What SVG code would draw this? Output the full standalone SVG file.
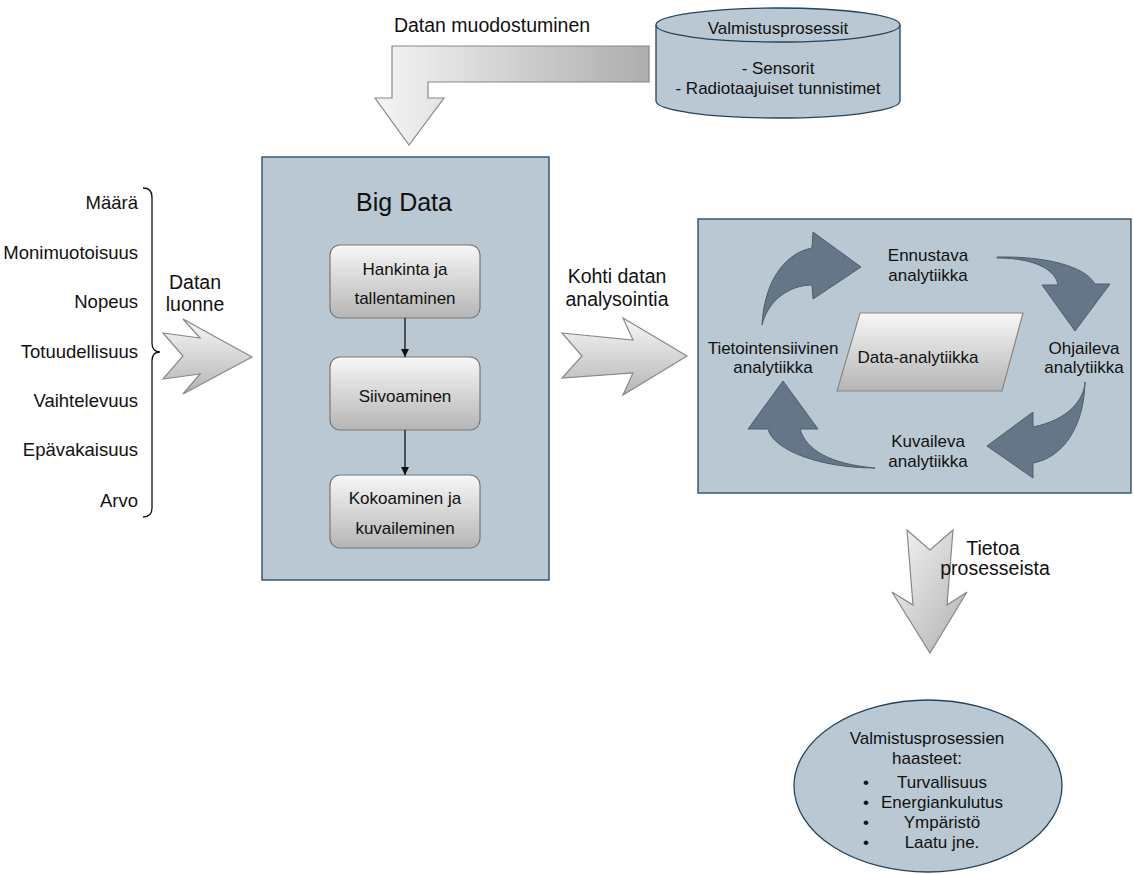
<svg xmlns="http://www.w3.org/2000/svg" width="1134" height="874" viewBox="0 0 1134 874">
  <defs>
    <style>
      text { font-family: "Liberation Sans", Arial, sans-serif; fill: #111; }
      .lbl { font-size: 17px; text-anchor: middle; }
      .big { font-size: 19.5px; text-anchor: middle; }
      .list { font-size: 18.5px; text-anchor: end; }
      .panel { fill: #bac8d3; stroke: #23445d; stroke-width: 1.3; }
      .step { fill: url(#gv); stroke: #777; stroke-width: 1.2; }
      .flow { fill: url(#gv); stroke: #888; stroke-width: 1.2; }
      .cyc { fill: #647687; stroke: #4d5e6e; stroke-width: 1; }
      .link { stroke: #111; stroke-width: 1.3; fill: none; }
    </style>
    <linearGradient id="gv" x1="0" y1="0" x2="0" y2="1">
      <stop offset="0" stop-color="#f7f7f7"/>
      <stop offset="1" stop-color="#b5b5b5"/>
    </linearGradient>
    <linearGradient id="gh" x1="0" y1="0" x2="1" y2="0">
      <stop offset="0" stop-color="#f5f5f5"/>
      <stop offset="1" stop-color="#adadad"/>
    </linearGradient>
    <linearGradient id="gd" x1="0" y1="0" x2="1" y2="1">
      <stop offset="0" stop-color="#f5f5f5"/>
      <stop offset="1" stop-color="#b0b0b0"/>
    </linearGradient>
    <marker id="head" viewBox="0 0 10 10" refX="10" refY="5" markerWidth="8" markerHeight="8" markerUnits="userSpaceOnUse" orient="auto">
      <path d="M0,0 L10,5 L0,10 Z" fill="#111"/>
    </marker>
  </defs>

  <rect width="1134" height="874" fill="#ffffff"/>

  <!-- data source: manufacturing processes -->
  <g id="source">
    <path class="panel" d="M656,25 L656,101 A122,17 0 0 0 900,101 L900,25 A122,17 0 0 0 656,25 Z"/>
    <path class="panel" style="fill:none" d="M656,25 A122,17 0 0 0 900,25"/>
    <text class="lbl" x="778" y="34">Valmistusprosessit</text>
    <text class="lbl" x="778" y="74">- Sensorit</text>
    <text class="lbl" x="778" y="94">- Radiotaajuiset tunnistimet</text>
  </g>

  <!-- data characteristics list -->
  <g id="characteristics">
    <text class="list" x="138" y="209">Määrä</text>
    <text class="list" x="138" y="259">Monimuotoisuus</text>
    <text class="list" x="138" y="308">Nopeus</text>
    <text class="list" x="138" y="358">Totuudellisuus</text>
    <text class="list" x="138" y="407">Vaihtelevuus</text>
    <text class="list" x="138" y="456">Epävakaisuus</text>
    <text class="list" x="138" y="507">Arvo</text>
    <path class="link" d="M143,188 Q152,188 152,197 L152,343 Q152,352 160,352 Q152,352 152,361 L152,508 Q152,517 143,517"/>
  </g>

  <!-- big data processing stage -->
  <g id="bigdata">
    <rect class="panel" x="262" y="157" width="287" height="423"/>
    <text x="404" y="211" style="font-size:25px;text-anchor:middle">Big Data</text>
  </g>
  <g id="acquire">
    <rect class="step" x="330" y="245" width="150" height="73" rx="10"/>
    <text class="lbl" x="405" y="275">Hankinta ja</text>
    <text class="lbl" x="405" y="304">tallentaminen</text>
  </g>
  <g id="clean">
    <rect class="step" x="330" y="357" width="150" height="73" rx="10"/>
    <text class="lbl" x="405" y="402">Siivoaminen</text>
  </g>
  <g id="compile">
    <rect class="step" x="330" y="475" width="150" height="73" rx="10"/>
    <text class="lbl" x="405" y="504">Kokoaminen ja</text>
    <text class="lbl" x="405" y="534">kuvaileminen</text>
  </g>

  <!-- analytics cycle -->
  <g id="analytics">
    <rect class="panel" x="698" y="219" width="433" height="274"/>
  </g>
  <g id="core">
    <path class="step" style="stroke:#888" d="M860,313 L1023,313 L1002,391 L837,391 Z"/>
    <text class="lbl" x="918" y="363">Data-analytiikka</text>
  </g>
  <g id="predictive">
    <text class="lbl" x="928" y="261">Ennustava</text>
    <text class="lbl" x="928" y="281">analytiikka</text>
  </g>
  <g id="prescriptive">
    <text class="lbl" x="1084" y="354">Ohjaileva</text>
    <text class="lbl" x="1084" y="373">analytiikka</text>
  </g>
  <g id="descriptive">
    <text class="lbl" x="928" y="447">Kuvaileva</text>
    <text class="lbl" x="928" y="467">analytiikka</text>
  </g>
  <g id="diagnostic">
    <text class="lbl" x="773" y="354">Tietointensiivinen</text>
    <text class="lbl" x="773" y="373">analytiikka</text>
  </g>

  <!-- outcome -->
  <g id="challenges">
    <ellipse class="panel" cx="928" cy="786" rx="134" ry="86"/>
    <text class="lbl" x="927" y="744">Valmistusprosessien</text>
    <text class="lbl" x="927" y="764">haasteet:</text>
    <text class="lbl" x="866" y="788">•</text>
    <text class="lbl" x="942" y="788">Turvallisuus</text>
    <text class="lbl" x="866" y="808">•</text>
    <text class="lbl" x="942" y="808">Energiankulutus</text>
    <text class="lbl" x="866" y="828">•</text>
    <text class="lbl" x="942" y="828">Ympäristö</text>
    <text class="lbl" x="866" y="848">•</text>
    <text class="lbl" x="942" y="848">Laatu jne.</text>
  </g>

  <!-- connectors -->
  <g id="connectors">
    <!-- bent block arrow from the source into Big Data -->
    <path style="fill:url(#gh);stroke:#888;stroke-width:1.2" d="M649,46 L392,46 L392,98 L375,98 L409,145 L444,98 L428,98 L428,82 L649,82 Z"/>
    <text class="big" x="492" y="32">Datan muodostuminen</text>

    <!-- chevron arrow: data characteristics -> Big Data -->
    <path class="flow" d="M163,333 L200,338 L183,319 L252,357 L183,394 L200,374 L163,379 L183,356 Z"/>
    <text class="big" x="195" y="289">Datan</text>
    <text class="big" x="195" y="311">luonne</text>

    <!-- chevron arrow: Big Data -> analytics -->
    <path class="flow" d="M562,333 L633,340 L623,318 L687,356 L623,395 L633,373 L562,378 L582,356 Z"/>
    <text class="big" x="617" y="283">Kohti datan</text>
    <text class="big" x="617" y="306">analysointia</text>

    <!-- step links inside Big Data -->
    <line class="link" x1="405" y1="318" x2="405" y2="357" marker-end="url(#head)"/>
    <line class="link" x1="405" y1="430" x2="405" y2="475" marker-end="url(#head)"/>

    <!-- curved cycle arrows -->
    <path class="cyc" d="M762,325 C764,285 782,254 812,248 L813,232 L861,267 L813,299 L812,285 C790,285 768,300 762,325 Z"/>
    <path class="cyc" d="M997,257 C1045,256 1085,266 1095,284 L1110,284 L1075,331 L1042,285 L1058,285 C1056,270 1035,258 997,258 Z"/>
    <path class="cyc" d="M1085,382 C1084,428 1062,458 1033,463 L1033,478 L987,446 L1033,412 L1033,427 C1068,420 1084,400 1085,382 Z"/>
    <path class="cyc" d="M875,468 C820,468 773,450 768,429 L748,429 L783,381 L818,429 L800,429 C806,450 830,464 875,468 Z"/>

    <!-- down arrow: analytics -> challenges -->
    <path style="fill:url(#gd);stroke:#888;stroke-width:1.2" d="M907,530 L930,550 L953,530 L947,605 L967,592 L930,653 L892,592 L913,605 Z"/>
    <text class="big" x="993" y="555">Tietoa</text>
    <text class="big" x="995" y="575">prosesseista</text>
  </g>
</svg>
